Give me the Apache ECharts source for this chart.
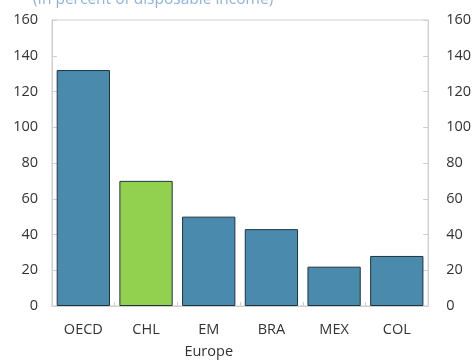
<!DOCTYPE html>
<html><head><meta charset="utf-8">
<script src="https://cdn.jsdelivr.net/npm/echarts@6/dist/echarts.min.js"></script>
<style>html,body{margin:0;padding:0;background:#fff}#c{width:474px;height:363px}</style>
</head><body><div id="c"></div>
<script>
var categories = ["OECD", "CHL", "EM\nEurope", "BRA", "MEX", "COL"];
var values = [132, 70, 50, 43, 22, 28];
var highlight = "CHL";
var yTicks = [0, 20, 40, 60, 80, 100, 120, 140, 160];
var titleText = "(In percent of disposable income)";

var chart = echarts.init(document.getElementById('c'));
var font = "'Open Sans', 'Noto Sans', sans-serif";
var axisLabel = {color: '#333', fontSize: 14.5, fontFamily: font};
chart.setOption({
  animation: false,
  title: {text: titleText, left: 28, top: -13, textStyle: {color: '#8fb4dc', fontSize: 15.5, fontWeight: 'normal', fontFamily: font}},
  grid: {left: 52, right: 45, top: 20, bottom: 56, show: true, borderColor: '#cfcfcf', borderWidth: 1},
  xAxis: {
    type: 'category', data: categories,
    axisLine: {lineStyle: {color: '#cfcfcf'}},
    axisTick: {show: true, inside: true, length: 4, lineStyle: {color: '#cfcfcf'}},
    axisLabel: Object.assign({margin: 13, lineHeight: 22, interval: 0}, axisLabel)
  },
  yAxis: [
    {type: 'value', min: 0, max: 160, interval: 20, position: 'left',
     axisLine: {show: true, lineStyle: {color: '#cfcfcf'}},
     axisTick: {show: true, inside: true, length: 5, lineStyle: {color: '#cfcfcf'}},
     splitLine: {show: false},
     axisLabel: Object.assign({margin: 14}, axisLabel)},
    {type: 'value', min: 0, max: 160, interval: 20, position: 'right',
     axisLine: {show: true, lineStyle: {color: '#cfcfcf'}},
     axisTick: {show: true, inside: true, length: 5, lineStyle: {color: '#cfcfcf'}},
     splitLine: {show: false},
     axisLabel: Object.assign({margin: 18, align: 'left'}, axisLabel)}
  ],
  series: [{
    type: 'bar', barCategoryGap: '15%',
    data: values.map(function(v, i){
      return {value: v, itemStyle: {color: categories[i] === highlight ? '#92d050' : '#4a8bad'}};
    }),
    itemStyle: {borderColor: '#1e3340', borderWidth: 1}
  }]
});
</script></body></html>
